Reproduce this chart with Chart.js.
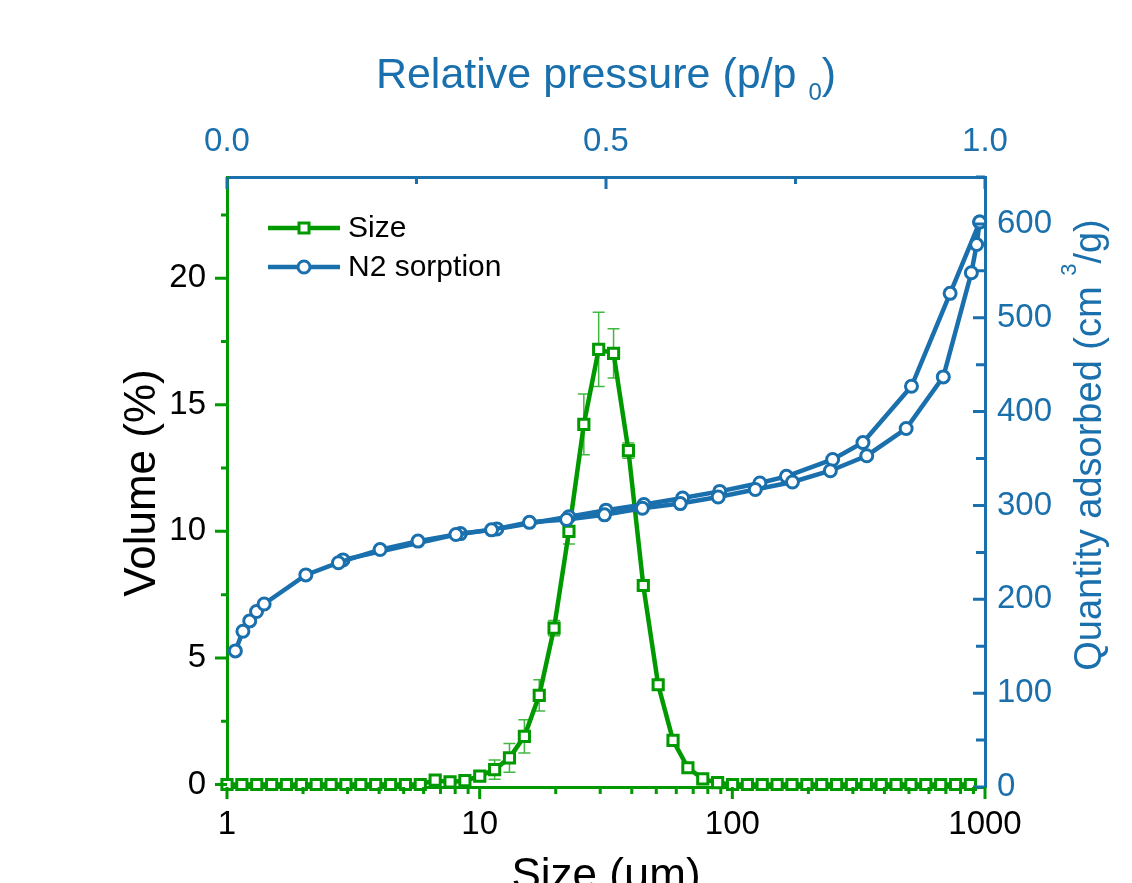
<!DOCTYPE html>
<html><head><meta charset="utf-8">
<script src="https://cdn.jsdelivr.net/npm/chart.js@4.4.1/dist/chart.umd.min.js"></script>
<style>html,body{margin:0;padding:0;background:#fff;overflow:hidden}#wrap{width:1132px;height:883px;position:relative}</style>
</head><body>
<div id="wrap"><canvas id="c" width="1132" height="883"></canvas></div>
<script>
// ---------- data ----------
const sizeBins = [1.00, 1.145, 1.311, 1.502, 1.719, 1.969, 2.255, 2.582, 2.956, 3.385, 3.877, 4.439, 5.083, 5.821, 6.666, 7.633, 8.740, 10.01, 11.46, 13.12, 15.03, 17.21, 19.70, 22.56, 25.84, 29.58, 33.88, 38.79, 44.42, 50.87, 58.25, 66.70, 76.38, 87.46, 100.2, 114.7, 131.3, 150.4, 172.2, 197.2, 225.8, 258.6, 296.1, 339.1, 388.3, 444.6, 509.2, 583.0, 667.6, 764.5, 875.4];
const sizeVolume = [0, 0, 0, 0, 0, 0, 0, 0, 0, 0, 0, 0, 0, 0, 0.17, 0.10, 0.15, 0.33, 0.59, 1.05, 1.90, 3.52, 6.18, 10.0, 14.23, 17.19, 17.03, 13.19, 7.86, 3.94, 1.74, 0.66, 0.22, 0.07, 0, 0, 0, 0, 0, 0, 0, 0, 0, 0, 0, 0, 0, 0, 0, 0, 0];
const sizeError  = [0, 0, 0, 0, 0, 0, 0, 0, 0, 0, 0, 0, 0, 0, 0, 0, 0, 0.2, 0.38, 0.57, 0.66, 0.62, 0.3, 0.5, 1.2, 1.47, 0.97, 0.3, 0.15, 0.1, 0.05, 0.05, 0.1, 0.1, 0, 0, 0, 0, 0, 0, 0, 0, 0, 0, 0, 0, 0, 0, 0, 0, 0];
const n2AdsPressure = [0.011, 0.021, 0.030, 0.039, 0.049, 0.104, 0.147, 0.202, 0.252, 0.302, 0.349, 0.399, 0.448, 0.498, 0.548, 0.598, 0.648, 0.697, 0.746, 0.796, 0.844, 0.896, 0.945, 0.982, 0.989, 0.993];
const n2AdsQuantity = [145, 166, 177, 187, 195, 226, 239, 253, 262, 269, 274, 282, 285, 290, 297, 302, 309, 317, 325, 337, 353, 382, 437, 548, 578, 602];
const n2DesPressure = [0.993, 0.954, 0.903, 0.839, 0.799, 0.738, 0.703, 0.650, 0.601, 0.550, 0.500, 0.451, 0.356, 0.308, 0.153];
const n2DesQuantity = [602, 526, 427, 367, 349, 331, 324, 315, 308, 301, 295, 288, 275, 270, 242];

const volumeTicks = [0, 5, 10, 15, 20];
const volumeMinor = [2.5, 7.5, 12.5, 17.5, 22.5];
const quantityTicks = [0, 100, 200, 300, 400, 500, 600];
const quantityMinor = [50, 150, 250, 350, 450, 550, 650];
const sizeTicks = [1, 10, 100, 1000];
const sizeTickLabels = ['1', '10', '100', '1000'];
const sizeMinor = [2, 3, 4, 5, 6, 7, 8, 9, 20, 30, 40, 50, 60, 70, 80, 90, 200, 300, 400, 500, 600, 700, 800, 900];
const pressureTicks = [0, 0.5, 1.0];
const pressureTickLabels = ['0.0', '0.5', '1.0'];
const pressureMinor = [0.25, 0.75];
const seriesNames = ['Size', 'N2 sorption'];

// ---------- style ----------
const GREEN = '#009a00';
const BLUE = '#1a6fad';
const FONT = '"Liberation Sans", Arial, Helvetica, sans-serif';

function fixedWidth(w) { return s => { s.width = w; }; }
function fixedHeight(h) { return s => { s.height = h; }; }
function setTicks(vals) { return s => { s.ticks = vals.map(v => ({ value: v })); }; }

const axisTickPlugin = {
  id: 'axisTicks',
  afterDraw(chart) {
    const { ctx, chartArea: a, scales } = chart;
    ctx.save();
    ctx.lineWidth = 3;
    ctx.lineCap = 'butt';
    const vt = (scale, vals, len, base, dir, color) => {
      ctx.strokeStyle = color; ctx.beginPath();
      vals.forEach(v => { const y = scale.getPixelForValue(v); ctx.moveTo(base, y); ctx.lineTo(base + dir * len, y); });
      ctx.stroke();
    };
    const ht = (scale, vals, len, base, dir, color) => {
      ctx.strokeStyle = color; ctx.beginPath();
      vals.forEach(v => { const x = scale.getPixelForValue(v); ctx.moveTo(x, base); ctx.lineTo(x, base + dir * len); });
      ctx.stroke();
    };
    vt(scales.y, volumeTicks, 12, a.left, -1, GREEN);
    vt(scales.y, volumeMinor, 6, a.left, -1, GREEN);
    vt(scales.yRight, quantityTicks, 12, a.right, -1, BLUE);
    vt(scales.yRight, quantityMinor, 9, a.right, -1, BLUE);
    ht(scales.xTop, pressureTicks, 12, a.top, 1, BLUE);
    ht(scales.xTop, pressureMinor, 7, a.top, 1, BLUE);
    ht(scales.x, sizeTicks, 12, a.bottom, 1, GREEN);
    ht(scales.x, sizeMinor, 7, a.bottom, 1, GREEN);
    ctx.restore();
  }
};

const errorBarPlugin = {
  id: 'errorBars',
  beforeDatasetsDraw(chart) {
    const { ctx, scales: { x, y } } = chart;
    ctx.save();
    ctx.strokeStyle = 'rgba(0,160,0,0.75)';
    ctx.lineWidth = 1.5;
    sizeBins.forEach((b, i) => {
      const e = sizeError[i];
      if (!e) return;
      const px = x.getPixelForValue(b);
      const yt = y.getPixelForValue(sizeVolume[i] + e);
      const yb = y.getPixelForValue(sizeVolume[i] - e);
      ctx.beginPath();
      ctx.moveTo(px, yt); ctx.lineTo(px, yb);
      ctx.moveTo(px - 6, yt); ctx.lineTo(px + 6, yt);
      ctx.moveTo(px - 6, yb); ctx.lineTo(px + 6, yb);
      ctx.stroke();
    });
    ctx.restore();
  }
};

function drawRich(ctx, parts, cx, cy, rot, color) {
  ctx.save();
  ctx.translate(cx, cy);
  ctx.rotate(rot);
  ctx.fillStyle = color;
  ctx.textAlign = 'left';
  ctx.textBaseline = 'alphabetic';
  let total = 0;
  parts.forEach(p => { ctx.font = p.size + 'px ' + FONT; p.w = ctx.measureText(p.text).width; total += p.w; });
  let x = -total / 2;
  parts.forEach(p => { ctx.font = p.size + 'px ' + FONT; ctx.fillText(p.text, x, p.dy || 0); x += p.w; });
  ctx.restore();
}

const titlesPlugin = {
  id: 'titles',
  afterDraw(chart) {
    const ctx = chart.ctx;
    drawRich(ctx, [{ text: 'Relative pressure (p/p ', size: 43 }, { text: '0', size: 24, dy: 12 }, { text: ')', size: 43 }], 606, 88, 0, BLUE);
    drawRich(ctx, [{ text: 'Quantity adsorbed (cm ', size: 38 }, { text: '3', size: 22, dy: -25 }, { text: '/g)', size: 38 }], 1101, 445, -Math.PI / 2, BLUE);
    drawRich(ctx, [{ text: 'Volume (%)', size: 44 }], 155, 483, -Math.PI / 2, '#000');
    drawRich(ctx, [{ text: 'Size (\u03bcm)', size: 44 }], 606, 889, 0, '#000');
  }
};

const legendPlugin = {
  id: 'customLegend',
  afterDraw(chart) {
    const ctx = chart.ctx;
    const items = [
      { name: seriesNames[0], color: GREEN, shape: 'rect', y: 228 },
      { name: seriesNames[1], color: BLUE, shape: 'circle', y: 267 }
    ];
    ctx.save();
    items.forEach(it => {
      ctx.strokeStyle = it.color;
      ctx.lineWidth = 4.5;
      ctx.beginPath(); ctx.moveTo(268, it.y); ctx.lineTo(340, it.y); ctx.stroke();
      ctx.lineWidth = 3;
      ctx.fillStyle = '#fff';
      ctx.beginPath();
      if (it.shape === 'rect') ctx.rect(304 - 5, it.y - 5, 10, 10);
      else ctx.arc(304, it.y, 6, 0, Math.PI * 2);
      ctx.fill(); ctx.stroke();
      ctx.fillStyle = '#000';
      ctx.font = '30px ' + FONT;
      ctx.textAlign = 'left';
      ctx.textBaseline = 'middle';
      ctx.fillText(it.name, 348, it.y + 1);
    });
    ctx.restore();
  }
};

const tickFont = { size: 33, family: FONT };

new Chart(document.getElementById('c'), {
  type: 'line',
  data: {
    datasets: [
      {
        label: seriesNames[1],
        data: n2AdsPressure.map((p, i) => ({ x: p, y: n2AdsQuantity[i] })),
        xAxisID: 'xTop', yAxisID: 'yRight',
        borderColor: BLUE, borderWidth: 4.5, backgroundColor: '#fff',
        pointStyle: 'circle', pointRadius: 6, pointBorderWidth: 3, pointBackgroundColor: '#fff', pointBorderColor: BLUE,
        tension: 0, clip: false, order: 1
      },
      {
        label: seriesNames[1],
        data: n2DesPressure.map((p, i) => ({ x: p, y: n2DesQuantity[i] })),
        xAxisID: 'xTop', yAxisID: 'yRight',
        borderColor: BLUE, borderWidth: 4.5, backgroundColor: '#fff',
        pointStyle: 'circle', pointRadius: 6, pointBorderWidth: 3, pointBackgroundColor: '#fff', pointBorderColor: BLUE,
        tension: 0, clip: false, order: 1
      },
      {
        label: seriesNames[0],
        data: sizeBins.map((s, i) => ({ x: s, y: sizeVolume[i] })),
        xAxisID: 'x', yAxisID: 'y',
        borderColor: GREEN, borderWidth: 4.5, backgroundColor: '#fff',
        pointStyle: 'rect', pointRadius: 7.2, pointBorderWidth: 3, pointBackgroundColor: '#fff', pointBorderColor: GREEN,
        tension: 0, clip: false, order: 2
      }
    ]
  },
  options: {
    responsive: false,
    animation: false,
    devicePixelRatio: 1,
    layout: { padding: 0 },
    plugins: { legend: { display: false }, tooltip: { enabled: false }, title: { display: false } },
    scales: {
      x: {
        type: 'logarithmic', position: 'bottom', min: 1, max: 1000,
        afterBuildTicks: setTicks(sizeTicks), afterFit: fixedHeight(96),
        ticks: { autoSkip: false, maxRotation: 0, minRotation: 0, padding: 18, color: '#000', font: tickFont, callback: (v, i) => sizeTickLabels[i] },
        grid: { display: false, drawTicks: false },
        border: { display: true, color: GREEN, width: 3 }
      },
      xTop: {
        type: 'linear', position: 'top', min: 0, max: 1,
        afterBuildTicks: setTicks(pressureTicks), afterFit: fixedHeight(177),
        ticks: { autoSkip: false, maxRotation: 0, minRotation: 0, padding: 15, color: BLUE, font: tickFont, callback: (v, i) => pressureTickLabels[i] },
        grid: { display: false, drawTicks: false },
        border: { display: true, color: BLUE, width: 3 }
      },
      y: {
        type: 'linear', position: 'left', min: -0.1, max: 24,
        afterBuildTicks: setTicks(volumeTicks), afterFit: fixedWidth(227),
        ticks: { autoSkip: false, padding: 21, color: '#000', font: tickFont, callback: (v, i) => String(volumeTicks[i]) },
        grid: { display: false, drawTicks: false },
        border: { display: true, color: GREEN, width: 3 }
      },
      yRight: {
        type: 'linear', position: 'right', min: 0, max: 650,
        afterBuildTicks: setTicks(quantityTicks), afterFit: fixedWidth(147),
        ticks: { autoSkip: false, padding: 12, color: BLUE, font: tickFont, callback: (v, i) => String(quantityTicks[i]) },
        grid: { display: false, drawTicks: false },
        border: { display: true, color: BLUE, width: 3 }
      }
    }
  },
  plugins: [errorBarPlugin, axisTickPlugin, titlesPlugin, legendPlugin]
});
</script>
</body></html>
